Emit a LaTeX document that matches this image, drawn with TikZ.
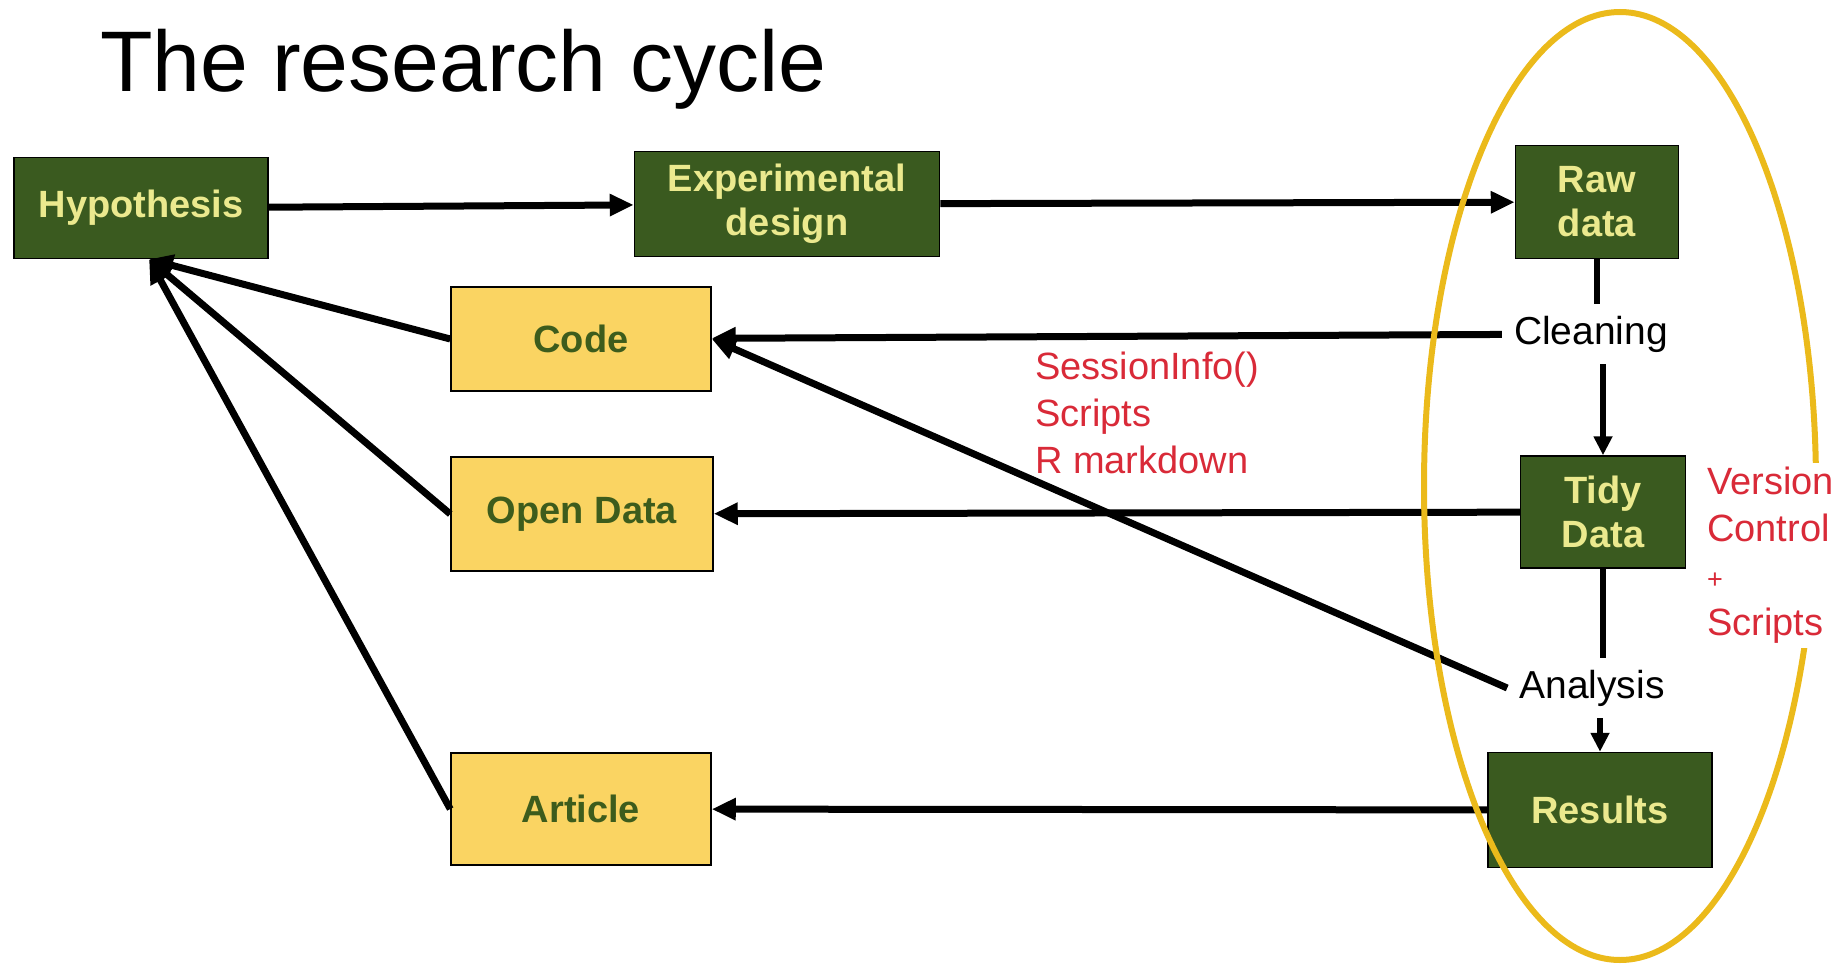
\documentclass[tikz,border=0pt]{standalone}
\usepackage{fontspec}
\setmainfont{Liberation Sans}
\usetikzlibrary{arrows.meta}
\definecolor{verdeosc}{HTML}{3A5A1F}
\definecolor{verdetxt}{HTML}{3D5C1C}
\definecolor{crema}{HTML}{EBE98E}
\definecolor{amarillo}{HTML}{FAD462}
\definecolor{oro}{HTML}{EBBA1B}
\definecolor{rojo}{HTML}{D92A38}
\tikzset{
  caja/.style     = {draw=black, line width=1.5pt, inner sep=0pt, align=center,
                     font=\fontsize{38}{44}\selectfont\bfseries},
  oscuro/.style   = {caja, fill=verdeosc, text=crema},
  claro/.style    = {caja, fill=amarillo, text=verdetxt},
  paso/.style     = {font=\fontsize{39}{44}\selectfont, fill=white, inner sep=12pt},
  nota/.style     = {font=\fontsize{38}{47}\selectfont, text=rojo, align=left,
                     inner sep=0pt},
  flecha/.style   = {-{Triangle[length=24pt,width=21pt]}, line width=7pt},
  tramo/.style    = {line width=6pt},
  bajada/.style   = {tramo, -{Triangle[length=19pt,width=18pt]}},
  aro/.style      = {draw=oro, line width=6pt},
  titulo/.style   = {font=\fontsize{86}{90}\selectfont, anchor=base west, inner sep=0pt},
}

\begin{document}
\begin{tikzpicture}[x=1pt,y=-1pt]
\useasboundingbox (0,0) rectangle (1848,966);

% =============================================================================
% Titulo y fila superior
% =============================================================================
\node[titulo] (tit) at (100,92) {The research cycle};

\node[oscuro, minimum width=254pt, minimum height=101pt] (hyp) at (141,208) {Hypothesis};
\node[oscuro, minimum width=305pt, minimum height=105pt] (exp) at (787,204) {Experimental\\design};
\node[oscuro, minimum width=163pt, minimum height=113pt] (raw) at (1597,202) {Raw\\data};

% =============================================================================
% Columna de datos (dentro del ovalo)
% =============================================================================
\node[paso] (cln) at (1591,334) {Cleaning};
\node[oscuro, minimum width=165pt, minimum height=112pt] (tidy) at (1603,512) {Tidy\\Data};
\node[paso] (ana) at (1592,688) {Analysis};
\node[oscuro, minimum width=224pt, minimum height=115pt] (res) at (1600,810) {Results};

% =============================================================================
% Productos
% =============================================================================
\node[claro, minimum width=260pt, minimum height=104pt] (code) at (581,339) {Code};
\node[claro, minimum width=262pt, minimum height=114pt] (open) at (582,514) {Open Data};
\node[claro, minimum width=260pt, minimum height=112pt] (art) at (581,809) {Article};

\node[nota, anchor=north west] (sinfo) at (1035,352) {SessionInfo()\\Scripts\\R markdown};

% =============================================================================
% Flechas
% =============================================================================
\draw[flecha] (hyp) -- (exp);
\draw[flecha] (exp) -- (raw);
\draw[tramo] (raw.south) -- (raw.south |- cln.north);
\draw[bajada] (tidy.north |- cln.south) -- (tidy.north);
\draw[flecha] (cln) -- (code);
\draw[flecha] (tidy) -- (open);
\draw[tramo] (tidy.south) -- (tidy.south |- ana.north);
\draw[bajada] (res.north |- ana.south) -- (res.north);
\draw[flecha] (ana.west) -- (code.east);
\draw[flecha] (res) -- (art);
\foreach \c in {code,open,art} \draw[flecha] (\c.west) -- ([xshift=8pt]hyp.south);

% el ovalo va encima de las cajas; la nota lo tapa a la derecha
\draw[aro] (1620,486) ellipse [x radius=196pt, y radius=474pt];
\node[nota, anchor=north west, fill=white, inner sep=4pt] (vc) at (1703,463)
  {Version\\Control\\{\fontsize{27}{47}\selectfont +}\\Scripts};

\end{tikzpicture}
\end{document}
